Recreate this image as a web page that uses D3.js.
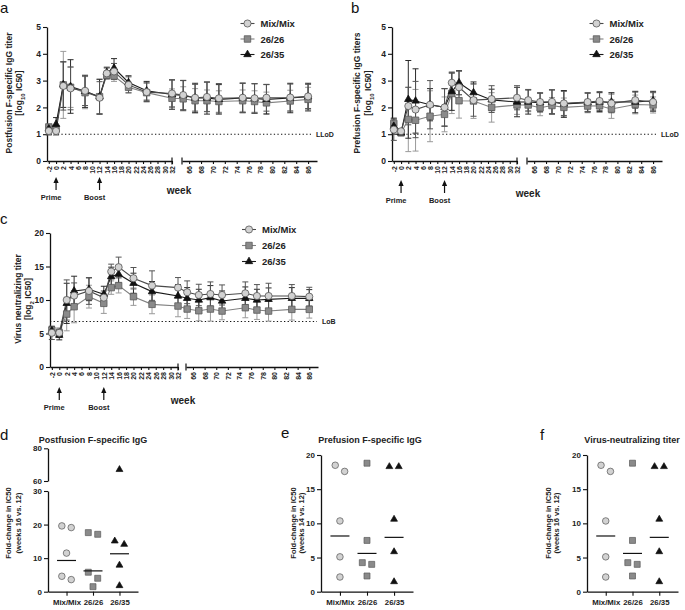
<!DOCTYPE html>
<html><head><meta charset="utf-8">
<script src="https://cdn.jsdelivr.net/npm/d3@7"></script>
<style>
body{margin:0;background:#fff}
svg{display:block}
text{font-family:"Liberation Sans",Arial,sans-serif}
</style>
</head><body>
<svg id="chart" width="685" height="610"></svg>
<script>
// ---------------- DATA ----------------
const groups = ["Mix/Mix", "26/26", "26/35"];
const weeks = [-2, 0, 2, 4, 8, 12, 14, 16, 20, 25, 32, 65, 67, 69, 71, 75, 77, 79, 83, 86];
const seg1Ticks = [-2,0,2,4,6,8,10,12,14,16,18,20,22,24,26,28,30,32];
const seg2Ticks = [66,68,70,72,74,76,78,80,82,84,86];

// panel a: postfusion F-specific IgG titer (log10 IC50), mean and SD
const postMixMean  = [1.12,1.12,2.80,2.71,2.62,2.36,3.27,3.34,2.84,2.57,2.52,2.46,2.36,2.39,2.34,2.36,2.34,2.36,2.37,2.41];
const postMixSD    = [0.15,0.15,0.90,0.80,0.55,0.60,0.20,0.30,0.30,0.35,0.50,0.55,0.50,0.55,0.55,0.55,0.55,0.50,0.50,0.45];
const post2626Mean = [1.27,1.20,2.84,2.75,2.55,2.40,3.20,3.17,2.75,2.55,2.34,2.32,2.25,2.25,2.22,2.25,2.22,2.17,2.24,2.30];
const post2626SD   = [0.10,0.10,1.25,0.75,0.60,0.65,0.15,0.20,0.20,0.35,0.35,0.45,0.45,0.40,0.40,0.40,0.40,0.40,0.40,0.45];
const post2635Mean = [1.20,1.37,2.85,2.78,2.60,2.40,3.30,3.47,2.93,2.62,2.48,2.45,2.35,2.35,2.30,2.35,2.33,2.30,2.35,2.40];
const post2635SD   = [0.10,0.25,0.85,1.00,0.60,0.65,0.20,0.35,0.25,0.35,0.55,0.55,0.55,0.60,0.55,0.55,0.55,0.55,0.55,0.50];

// panel b: prefusion F-specific IgG titers (log10 IC50)
const preMixMean  = [1.17,1.11,2.05,1.92,2.10,2.00,2.92,2.75,2.27,2.31,2.36,2.27,2.20,2.21,2.15,2.20,2.24,2.15,2.27,2.20];
const preMixSD    = [0.40,0.10,0.70,1.05,0.90,0.70,0.40,0.60,0.60,0.50,0.45,0.40,0.35,0.45,0.45,0.35,0.35,0.35,0.30,0.35];
const pre2626Mean = [1.40,1.05,1.55,1.52,1.67,1.74,2.52,2.25,2.24,2.00,2.09,2.09,1.99,2.07,2.00,2.05,2.06,1.94,2.11,2.09];
const pre2626SD   = [0.15,0.05,1.20,1.15,0.95,0.65,0.75,0.65,0.65,0.55,0.35,0.25,0.30,0.30,0.35,0.25,0.25,0.35,0.35,0.30];
const pre2635Mean = [1.30,1.05,2.30,2.24,2.10,2.00,2.59,2.92,2.55,2.28,2.20,2.20,2.18,2.20,2.13,2.18,2.20,2.20,2.20,2.25];
const pre2635SD   = [0.30,0.10,1.45,1.20,0.60,0.70,0.70,0.45,0.40,0.40,0.55,0.45,0.35,0.45,0.50,0.35,0.35,0.35,0.40,0.35];

// panel c: virus neutralizing titer (log2 IC50)
const vnMixMean  = [5.1,5.1,10.0,10.65,11.35,10.35,14.25,14.9,13.25,12.15,11.85,11.15,10.75,10.9,10.75,11.0,10.6,10.6,10.6,10.5];
const vnMixSD    = [1.0,0.7,3.0,1.9,2.0,1.0,1.1,1.5,1.6,2.2,1.5,1.7,1.6,1.8,1.5,1.7,1.7,1.9,1.7,1.4];
const vn2626Mean = [5.5,5.1,7.9,9.0,10.5,9.5,11.85,12.15,10.5,9.35,9.1,8.65,8.4,8.65,8.35,8.85,8.5,8.35,8.6,8.6];
const vn2626SD   = [0.5,0.5,2.5,2.4,1.7,1.5,1.0,1.1,1.3,1.4,1.6,1.4,1.5,1.8,1.3,1.5,1.4,1.5,1.6,1.3];
const vn2635Mean = [5.4,4.75,9.5,11.35,11.6,10.85,13.5,13.85,12.5,11.25,10.6,10.25,10.0,10.35,9.85,10.25,10.0,10.1,10.25,10.25];
const vn2635SD   = [0.6,0.7,3.0,2.2,1.7,1.2,1.4,1.3,1.5,1.5,1.7,1.6,1.6,1.8,1.5,1.7,1.6,1.7,1.6,1.3];

// panel d: fold-change postfusion IgG (weeks 16 vs 12)
const foldPostMix  = [19.6,19.1,11.5,4.6,3.6];
const foldPost2626 = [17.6,17.1,5.8,4.0,1.5];
const foldPost2635 = [67,15.1,14.1,7.9,1.8];
const foldPostGeoMean = [9.3,6.2,11.3];
// panel e: fold-change prefusion IgG (weeks 14 vs 12)
const foldPreMix  = [18.5,17.6,10.35,5.1,2.15];
const foldPre2626 = [18.8,7.5,4.25,4.0,2.3];
const foldPre2635 = [18.3,18.3,10.6,5.85,1.46];
const foldPreGeoMean = [8.15,5.6,7.95];
// panel f: fold-change virus-neutralizing titer (weeks 16 vs 12)
const foldVnMix  = [18.5,17.6,10.35,5.1,2.15];
const foldVn2626 = [18.8,7.5,4.25,4.0,2.3];
const foldVn2635 = [18.3,18.3,10.6,5.85,1.46];
const foldVnGeoMean = [8.15,5.6,7.95];

// ---------------- STYLES ----------------
const FONT = '"Liberation Sans",Arial,sans-serif';
const fmt = d => String(d);
const styles = {
  "Mix/Mix": {sym: d3.symbolCircle,   size: 40, fill: "#d2d2d2", stroke: "#555", line: "#4a4a4a", err: "#555"},
  "26/26":   {sym: d3.symbolSquare,   size: 42, fill: "#8a8a8a", stroke: "#5a5a5a", line: "#808080", err: "#9a9a9a"},
  "26/35":   {sym: d3.symbolTriangle, size: 24, fill: "#111",    stroke: "#111", line: "#1a1a1a", err: "#2a2a2a"}
};
const svg = d3.select("#chart");

function styleAxis(g, fs) {
  g.select(".domain").attr("stroke", "#111").attr("stroke-width", 1.3);
  g.selectAll(".tick line").attr("stroke", "#111").attr("stroke-width", 1.1);
  g.selectAll("text").attr("font-family", FONT).attr("font-weight", "bold").attr("font-size", fs).attr("fill", "#222");
}

function letter(t, x, y) {
  svg.append("text").attr("x", x).attr("y", y).attr("font-size", 15).attr("fill", "#111").text(t);
}

function yTitle(lines, x1, x2, cy, fs) {
  lines.forEach((ln, i) => {
    const t = svg.append("text")
      .attr("transform", `translate(${i === 0 ? x1 : x2},${cy}) rotate(-90)`)
      .attr("text-anchor", "middle").attr("font-weight", "bold")
      .attr("font-size", fs).attr("fill", "#222");
    ln.forEach(part => {
      const sp = t.append("tspan").text(part.t);
      if (part.sub) sp.attr("font-size", fs * 0.7).attr("baseline-shift", "sub");
    });
  });
}

// ---------------- TIME-COURSE PANELS ----------------
function timeCourse(cfg) {
  const g = svg.append("g");
  const s1 = d3.scaleLinear().domain([-2.5, 32]).range(cfg.seg1);
  const s2 = d3.scaleLinear().domain([64.8, 87.5]).range(cfg.seg2);
  const xp = w => (w < 50 ? s1(w) : s2(w));
  const y = d3.scaleLinear().domain(cfg.yDomain).range(cfg.yRange);
  const y0 = cfg.yRange[0];

  // limit line
  g.append("line").attr("x1", cfg.seg1[0]).attr("x2", cfg.limitEnd)
    .attr("y1", y(cfg.limit)).attr("y2", y(cfg.limit))
    .attr("stroke", "#111").attr("stroke-width", 1.1).attr("stroke-dasharray", "1.3,2.3");
  g.append("text").attr("x", cfg.limitEnd + 5).attr("y", y(cfg.limit) + 2.5)
    .attr("font-size", 7).attr("font-weight", "bold").attr("fill", "#222").text(cfg.limitLabel);

  // axes
  const ya = g.append("g").attr("transform", `translate(${cfg.seg1[0]},0)`)
    .call(d3.axisLeft(y).tickValues(cfg.yTicks).tickFormat(fmt).tickSize(4).tickSizeOuter(0).tickPadding(2));
  styleAxis(ya, 8.5);

  [[s1, seg1Ticks], [s2, seg2Ticks]].forEach(([sc, tv]) => {
    const xa = g.append("g").attr("transform", `translate(0,${y0})`)
      .call(d3.axisBottom(sc).tickValues(tv).tickFormat(fmt).tickSize(3).tickSizeOuter(0));
    styleAxis(xa, 7);
    xa.selectAll("text").attr("transform", "rotate(-90)").attr("text-anchor", "end")
      .attr("x", -5).attr("y", 0).attr("dy", "0.35em");
  });
  // break caps
  [cfg.seg1[1], cfg.seg2[0]].forEach(x => {
    g.append("line").attr("x1", x).attr("x2", x).attr("y1", y0 - 3.5).attr("y2", y0 + 3.5)
      .attr("stroke", "#111").attr("stroke-width", 1.2);
  });

  const order = [1, 2, 0];
  // error bars
  order.forEach(k => {
    const st = styles[groups[k]];
    const m = cfg.means[k], sd = cfg.sds[k];
    const eg = g.append("g").attr("stroke", st.err).attr("stroke-width", 1);
    weeks.forEach((w, i) => {
      const x = xp(w);
      eg.append("line").attr("x1", x).attr("x2", x).attr("y1", y(m[i] - sd[i])).attr("y2", y(m[i] + sd[i]));
      [m[i] - sd[i], m[i] + sd[i]].forEach(v => {
        eg.append("line").attr("x1", x - 3).attr("x2", x + 3).attr("y1", y(v)).attr("y2", y(v));
      });
    });
  });
  // lines
  order.forEach(k => {
    const st = styles[groups[k]];
    const line = d3.line().x((d, i) => xp(weeks[i])).y(d => y(d));
    g.append("path").datum(cfg.means[k]).attr("d", line)
      .attr("fill", "none").attr("stroke", st.line).attr("stroke-width", 1.1);
  });
  // markers
  order.forEach(k => {
    const st = styles[groups[k]];
    g.append("g").selectAll("path").data(cfg.means[k]).join("path")
      .attr("d", d3.symbol().type(st.sym).size(st.size))
      .attr("transform", (d, i) => `translate(${xp(weeks[i])},${y(d)})`)
      .attr("fill", st.fill).attr("stroke", st.stroke).attr("stroke-width", 0.8);
  });

  // legend
  groups.forEach((gr, k) => {
    const st = styles[gr];
    const ly = cfg.legend.y + k * cfg.legend.dy;
    const lx = cfg.legend.x;
    g.append("line").attr("x1", lx - 7).attr("x2", lx + 7).attr("y1", ly).attr("y2", ly)
      .attr("stroke", st.line).attr("stroke-width", 1.1);
    g.append("path").attr("d", d3.symbol().type(st.sym).size(st.size))
      .attr("transform", `translate(${lx},${ly})`)
      .attr("fill", st.fill).attr("stroke", st.stroke).attr("stroke-width", 0.8);
    g.append("text").attr("x", lx + 13).attr("y", ly + 3.5).attr("font-size", 9.5)
      .attr("font-weight", "bold").attr("fill", "#222").text(gr);
  });

  // Prime / Boost arrows
  [[0, "Prime"], [12, "Boost"]].forEach(([w, lab]) => {
    const x = s1(w);
    g.append("line").attr("x1", x).attr("x2", x).attr("y1", cfg.arrowY + 13).attr("y2", cfg.arrowY + 4)
      .attr("stroke", "#111").attr("stroke-width", 1.2);
    g.append("path").attr("d", `M${x},${cfg.arrowY} L${x - 2.6},${cfg.arrowY + 6} L${x + 2.6},${cfg.arrowY + 6} Z`)
      .attr("fill", "#111");
    g.append("text").attr("x", x - 5).attr("y", cfg.arrowY + 23).attr("text-anchor", "middle")
      .attr("font-size", 7.5).attr("font-weight", "bold").attr("fill", "#222").text(lab);
  });
  g.append("text").attr("x", cfg.weekX).attr("y", cfg.arrowY + 17).attr("text-anchor", "middle")
    .attr("font-size", 10).attr("font-weight", "bold").attr("fill", "#222").text("week");
}

timeCourse({
  seg1: [47, 172], seg2: [182, 317], yRange: [161, 27], yDomain: [0, 5], yTicks: [0, 1, 2, 3, 4, 5],
  means: [postMixMean, post2626Mean, post2635Mean], sds: [postMixSD, post2626SD, post2635SD],
  limit: 1, limitLabel: "LLoD", limitEnd: 311,
  legend: {x: 247.5, y: 23.5, dy: 15.5}, arrowY: 177, weekX: 179
});
timeCourse({
  seg1: [392, 517], seg2: [527, 662], yRange: [161, 27], yDomain: [0, 5], yTicks: [0, 1, 2, 3, 4, 5],
  means: [preMixMean, pre2626Mean, pre2635Mean], sds: [preMixSD, pre2626SD, pre2635SD],
  limit: 1, limitLabel: "LLoD", limitEnd: 656,
  legend: {x: 596.5, y: 23.5, dy: 15.5}, arrowY: 180, weekX: 528
});
timeCourse({
  seg1: [50, 178], seg2: [186, 318], yRange: [367, 233], yDomain: [0, 20], yTicks: [0, 5, 10, 15, 20],
  means: [vnMixMean, vn2626Mean, vn2635Mean], sds: [vnMixSD, vn2626SD, vn2635SD],
  limit: 6.8, limitLabel: "LoB", limitEnd: 317,
  legend: {x: 249, y: 229.5, dy: 16}, arrowY: 387, weekX: 183
});

letter("a", 0, 13); letter("b", 351, 13); letter("c", 0, 224);
yTitle([[{t: "Postfusion F-specific IgG titer"}], [{t: "[log"}, {t: "10", sub: true}, {t: " IC50]"}]], 12, 22, 93, 8.5);
yTitle([[{t: "Prefusion F-specific IgG titers"}], [{t: "[log"}, {t: "10", sub: true}, {t: " IC50]"}]], 360, 371, 93, 8.5);
yTitle([[{t: "Virus neutralizing titer"}], [{t: "[log"}, {t: "2", sub: true}, {t: " IC50]"}]], 21, 31, 299, 8.5);

// ---------------- FOLD-CHANGE PANELS ----------------
function foldPanel(cfg) {
  const g = svg.append("g");
  const x = d3.scalePoint().domain(groups).range(cfg.xRange).padding(0.7);
  const yLow = d3.scaleLinear().domain([0, cfg.lowMax]).range([cfg.y0, cfg.yLowTop]);
  const yHigh = cfg.high ? d3.scaleLinear().domain(cfg.high.domain).range(cfg.high.range) : null;
  const yv = v => (yHigh && v > cfg.lowMax ? yHigh(v) : yLow(v));

  const ya = g.append("g").attr("transform", `translate(${cfg.xRange[0]},0)`)
    .call(d3.axisLeft(yLow).tickValues(cfg.lowTicks).tickFormat(fmt).tickSize(4).tickSizeOuter(0).tickPadding(2));
  styleAxis(ya, 8);
  if (yHigh) {
    const yb = g.append("g").attr("transform", `translate(${cfg.xRange[0]},0)`)
      .call(d3.axisLeft(yHigh).tickValues(cfg.high.ticks).tickFormat(fmt).tickSize(4).tickSizeOuter(0).tickPadding(2));
    styleAxis(yb, 8);
  }
  const xa = g.append("g").attr("transform", `translate(0,${cfg.y0})`)
    .call(d3.axisBottom(x).tickSize(4).tickSizeOuter(0));
  styleAxis(xa, 7.8);
  xa.selectAll("text").attr("y", 13).attr("dy", 0);

  cfg.values.forEach((vals, k) => {
    const st = styles[groups[k]];
    // simple collision grouping to place near-equal values side by side
    const sorted = vals.slice().sort((a, b) => b - a);
    const clusters = [];
    sorted.forEach(v => {
      const last = clusters[clusters.length - 1];
      if (last && Math.abs(yv(last[last.length - 1]) - yv(v)) < 8) last.push(v);
      else clusters.push([v]);
    });
    const pts = [];
    clusters.forEach(cl => cl.forEach((v, j) => pts.push({v, dx: (j - (cl.length - 1) / 2) * 9.4})));
    g.append("g").selectAll("path").data(pts).join("path")
      .attr("d", d3.symbol().type(st.sym).size(st.size * 0.85))
      .attr("transform", d => `translate(${x(groups[k]) + d.dx},${yv(d.v)})`)
      .attr("fill", st.fill).attr("stroke", st.stroke).attr("stroke-width", 0.7);
    g.append("line").attr("x1", x(groups[k]) - 9.5).attr("x2", x(groups[k]) + 9.5)
      .attr("y1", yLow(cfg.means[k])).attr("y2", yLow(cfg.means[k]))
      .attr("stroke", "#111").attr("stroke-width", 1.2);
  });

  g.append("text").attr("x", cfg.titleX).attr("y", 443).attr("text-anchor", "middle")
    .attr("font-size", 9).attr("font-weight", "bold").attr("fill", "#222").text(cfg.title);
  yTitle([[{t: "Fold-change in IC50"}], [{t: cfg.weeksLabel}]], cfg.ytX[0], cfg.ytX[1], 523, 7.5);
}

foldPanel({
  xRange: [48, 138], y0: 591.7, yLowTop: 491, lowMax: 30, lowTicks: [0, 10, 20, 30],
  high: {domain: [60, 80], range: [481, 448.3], ticks: [60, 80]},
  values: [foldPostMix, foldPost2626, foldPost2635], means: foldPostGeoMean,
  title: "Postfusion F-specific IgG", titleX: 93, weeksLabel: "(weeks 16 vs. 12)", ytX: [10.5, 20.5]
});
foldPanel({
  xRange: [321, 413], y0: 591.7, yLowTop: 455, lowMax: 20, lowTicks: [0, 5, 10, 15, 20],
  values: [foldPreMix, foldPre2626, foldPre2635], means: foldPreGeoMean,
  title: "Prefusion F-specific IgG", titleX: 370, weeksLabel: "(weeks 14 vs. 12)", ytX: [295.5, 303.5]
});
foldPanel({
  xRange: [587, 678], y0: 591.7, yLowTop: 455, lowMax: 20, lowTicks: [0, 5, 10, 15, 20],
  values: [foldVnMix, foldVn2626, foldVn2635], means: foldVnGeoMean,
  title: "Virus-neutralizing titer", titleX: 632, weeksLabel: "(weeks 16 vs. 12)", ytX: [551, 559]
});
letter("d", 0, 440); letter("e", 281, 438); letter("f", 540, 440);
</script>
</body></html>
